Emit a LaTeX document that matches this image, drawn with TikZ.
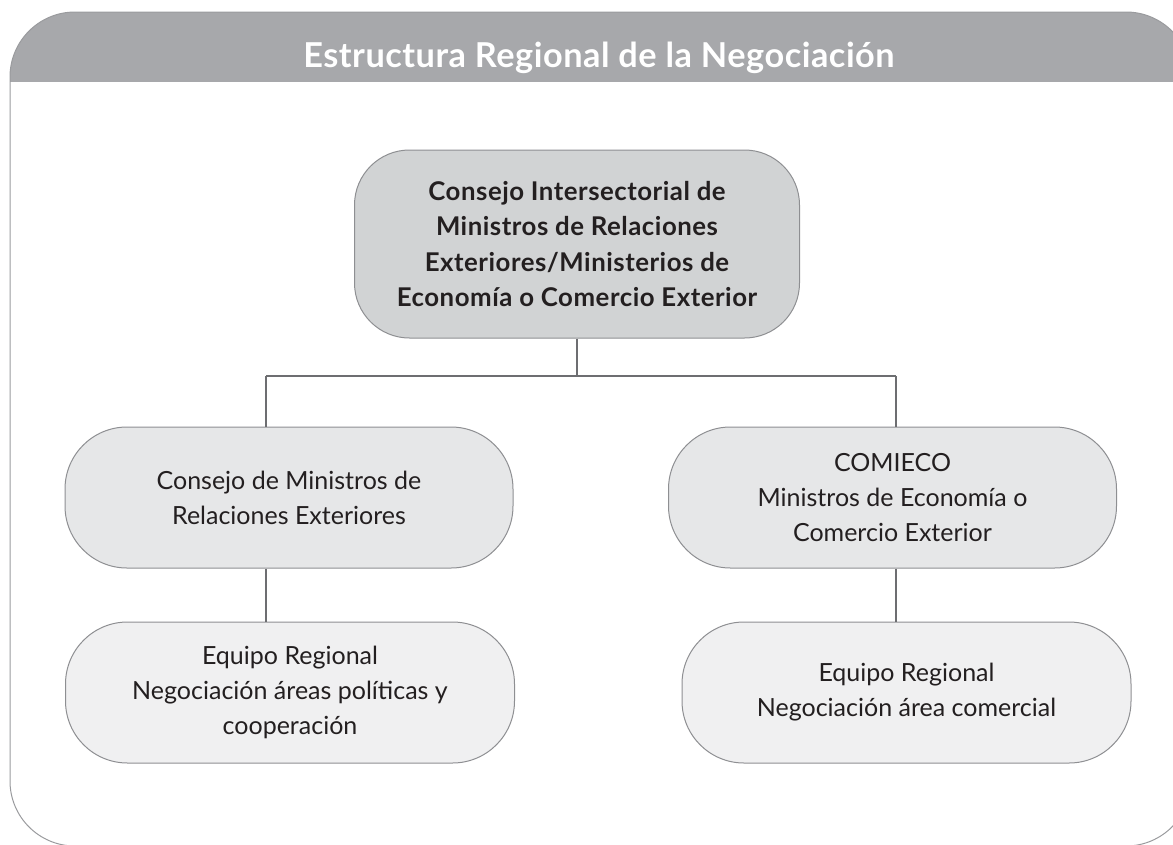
\documentclass[tikz,border=0pt]{standalone}
\usepackage{fontspec}
\setmainfont{Lato}
\definecolor{headgray}{HTML}{A7A8AB}
\definecolor{framegray}{HTML}{9A9B9E}
\definecolor{topfill}{HTML}{D1D3D4}
\definecolor{midfill}{HTML}{E6E7E8}
\definecolor{lowfill}{HTML}{F0F0F1}
\definecolor{edgegray}{HTML}{8E8F92}
\definecolor{conngray}{HTML}{6D6E71}
\definecolor{txt}{HTML}{231F20}
\tikzset{
  box/.style={draw=edgegray, line width=1pt, align=center, text=txt, inner sep=0pt,
    font=\fontsize{25}{35}\selectfont},
  topbox/.style={box, fill=topfill, rounded corners=55pt, minimum width=445pt, minimum height=188pt,
    font=\bfseries\fontsize{25.8}{35.5}\selectfont\addfontfeatures{LetterSpace=2}},
  midbox/.style={box, fill=midfill, rounded corners=62pt, minimum width=448pt, minimum height=141pt},
  lowbox/.style={box, fill=lowfill, rounded corners=62pt, minimum width=449pt, minimum height=141pt},
  conn/.style={draw=conngray, line width=1.3pt}
}
\begin{document}
\begin{tikzpicture}[x=1pt,y=-1pt]
\useasboundingbox (0,0) rectangle (1173,844);
\begin{scope}
  \clip (0,0) rectangle (1173,844);
  \begin{scope}
    \clip[rounded corners=65pt] (10,12) rectangle (1191,846);
    \fill[headgray] (0,0) rectangle (1200,82);
  \end{scope}
  \draw[framegray, line width=1pt, rounded corners=65pt] (10,12) rectangle (1191,846);
\end{scope}
\node[anchor=base, text=white, font=\bfseries\fontsize{34.3}{38}\selectfont\addfontfeatures{LetterSpace=1.5}] (title) at (599,67) {Estructura Regional de la Negociación};

\node[topbox] (top) at (577,244) {Consejo Intersectorial de\\Ministros de Relaciones\\Exteriores/Ministerios de\\Economía o Comercio Exterior};
\node[midbox] (lm) at (289,497.5) {Consejo de Ministros de\\Relaciones Exteriores};
\node[midbox] (rm) at (892.5,497.5) {COMIECO\\Ministros de Economía o\\Comercio Exterior};
\node[lowbox] (ll) at (290,692.5) {Equipo Regional\\Negociación áreas políticas y\\cooperación};
\node[lowbox] (rl) at (906.5,692.5) {Equipo Regional\\Negociación área comercial};

\coordinate (jl) at (266,376);
\coordinate (jr) at (896,376);
\draw[conn] (top.south) -- (top.south |- jl);
\draw[conn] (jl) -- (jr);
\draw[conn] (jl) -- (jl |- lm.north);
\draw[conn] (jr) -- (jr |- rm.north);
\draw[conn] (lm.south -| jl) -- (ll.north -| jl);
\draw[conn] (rm.south -| jr) -- (rl.north -| jr);
\end{tikzpicture}
\end{document}
